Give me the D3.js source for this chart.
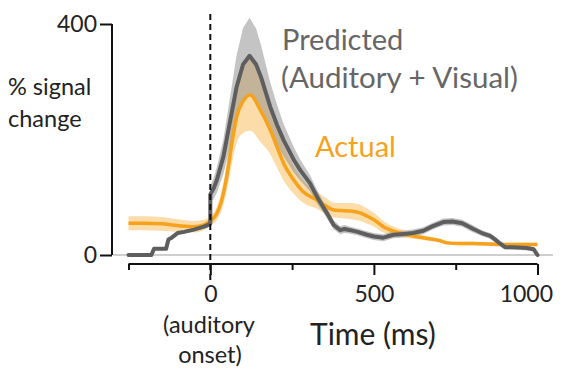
<!DOCTYPE html>
<html>
<head>
<meta charset="utf-8">
<script src="https://cdn.jsdelivr.net/npm/d3@7"></script>
<style>
  body { margin: 0; background: #fff; }
  text { font-family: Lato, "Open Sans", sans-serif; }
</style>
</head>
<body>
<svg id="chart"></svg>
<script>
// time points (ms) and values (% signal change)
const actualTime = [-250, -200, -150, -100, -50, -20, 0, 20, 35, 50, 65, 80, 100, 122, 153, 183, 204, 224, 255, 285, 326, 350, 377, 400, 428, 458, 480, 500, 529, 580, 620, 660, 700, 725, 760, 800, 850, 900, 950, 1000]
const actualMean = [55, 55, 54, 51, 49, 52, 59, 72, 95, 135, 190, 238, 266, 277, 251, 217, 187, 159, 130, 109, 95, 86, 78, 77, 76, 73, 67, 61, 49, 38, 33, 29, 25, 21, 20, 20, 19, 18, 18, 18]
const actualErr = [12, 12, 12, 11, 10, 9, 8, 12, 17, 25, 35, 45, 55, 62, 55, 42, 36, 30, 24, 19, 15, 14, 13, 13, 14, 14, 13, 12, 10, 7, 5, 4, 3, 3, 3, 3, 3, 3, 3, 3]

const predTime = [-250, -180, -172, -135, -128, -118, -100, -80, -50, -20, 0, 0, 10, 20, 40, 60, 80, 100, 120, 140, 155, 183, 204, 224, 255, 275, 305, 326, 340, 356, 377, 397, 410, 428, 450, 479, 500, 529, 560, 580, 600, 620, 651, 680, 712, 740, 770, 804, 830, 855, 870, 885, 900, 940, 968, 988, 1000]
const predMean = [0, 0, 11, 11, 27, 30, 38, 40, 44, 49, 54, 105, 115, 130, 170, 230, 290, 330, 345, 330, 308, 257, 225, 199, 165, 147, 124, 101, 88, 73, 52, 43, 45, 43, 40, 35, 32, 30, 35, 36, 37, 38, 42, 50, 57, 58, 55, 45, 38, 33, 27, 20, 14, 13, 12, 10, 0]
const predErr = [2, 2, 2, 2, 3, 3, 3, 3, 3, 4, 5, 15, 18, 22, 30, 42, 55, 63, 66, 62, 55, 42, 35, 28, 22, 18, 14, 12, 10, 9, 8, 7, 7, 6, 6, 6, 6, 6, 6, 6, 6, 6, 6, 6, 6, 6, 6, 6, 5, 5, 5, 5, 5, 4, 4, 4, 3]

const xTicks = [-250, 0, 250, 500, 750, 1000]
const xLabels = [0, 500, 1000]
const yTicks = [0, 400]

function zipSeries(t, m, e) {
    return t.map(function(d, i) { return { t: d, v: m[i], e: e[i] } })
}

const actual = zipSeries(actualTime, actualMean, actualErr)
const predicted = zipSeries(predTime, predMean, predErr)

const svgWidth = 563, svgHeight = 370
const svg = d3.select('#chart')
    .attr('width', svgWidth)
    .attr('height', svgHeight)

const x = d3.scaleLinear().domain([-250, 1000]).range([128.5, 537.5])
const y = d3.scaleLinear().domain([0, 400]).range([255, 24])

const orange = '#f6a21c'
const grayLine = '#5e5e5e'

// zero reference line
svg.append('line')
    .attr('x1', 113).attr('x2', 553)
    .attr('y1', y(0)).attr('y2', y(0))
    .attr('stroke', '#cfcfcf')
    .attr('stroke-width', 2)

// error bands
const band = d3.area()
    .x(function(d) { return x(d.t) })
    .y0(function(d) { return y(d.v - d.e) })
    .y1(function(d) { return y(d.v + d.e) })

svg.append('path')
    .datum(actual)
    .attr('fill', orange)
    .attr('fill-opacity', 0.38)
    .attr('d', band.curve(d3.curveMonotoneX))

svg.append('path')
    .datum(predicted)
    .attr('fill', '#8a8a8a')
    .attr('fill-opacity', 0.5)
    .attr('d', band.curve(d3.curveLinear))

// mean lines
const line = d3.line()
    .x(function(d) { return x(d.t) })
    .y(function(d) { return y(d.v) })

svg.append('path')
    .datum(actual)
    .attr('fill', 'none')
    .attr('stroke', orange)
    .attr('stroke-width', 3.5)
    .attr('stroke-linejoin', 'round')
    .attr('d', line.curve(d3.curveMonotoneX))

svg.append('path')
    .datum(predicted)
    .attr('fill', 'none')
    .attr('stroke', grayLine)
    .attr('stroke-width', 4)
    .attr('stroke-linejoin', 'round')
    .attr('stroke-linecap', 'round')
    .attr('d', line.curve(d3.curveLinear))

// auditory onset marker
svg.append('line')
    .attr('x1', x(0)).attr('x2', x(0))
    .attr('y1', 14).attr('y2', 280)
    .attr('stroke', '#111')
    .attr('stroke-width', 2)
    .attr('stroke-dasharray', '6,4')

// y axis
const yAxis = svg.append('g')
    .attr('transform', 'translate(112,0)')
    .call(d3.axisLeft(y).tickValues(yTicks).tickSize(12).tickPadding(3).tickFormat(d3.format('d')))
yAxis.select('.domain').attr('stroke', '#111').attr('stroke-width', 2).attr('d', 'M0,' + y(400) + 'V' + y(0))
yAxis.selectAll('.tick line').attr('stroke', '#111').attr('stroke-width', 2)
yAxis.selectAll('.tick text')
    .attr('font-size', 23)
    .attr('fill', '#222')
    .style('font-family', 'Lato, sans-serif')

// x axis
const xAxis = svg.append('g')
    .attr('transform', 'translate(0,264)')
    .call(d3.axisBottom(x).tickValues(xTicks).tickSize(6).tickFormat(''))
xAxis.select('.domain').attr('stroke', '#111').attr('stroke-width', 2).attr('d', 'M' + x(-250) + ',0H' + x(1000))
xAxis.selectAll('.tick line')
    .attr('stroke', '#111')
    .attr('stroke-width', 2)
    .attr('y2', function(d) { return xLabels.indexOf(d) >= 0 ? 11 : 6 })

// the last label sits a little left of its tick so it stays inside the frame
xAxis.selectAll('.tick')
    .filter(function(d) { return xLabels.indexOf(d) >= 0 })
    .append('text')
    .attr('y', 38)
    .attr('x', function(d) { return d === 1000 ? 15 : 0 })
    .attr('text-anchor', function(d) { return d === 1000 ? 'end' : 'middle' })
    .attr('font-size', 23)
    .attr('fill', '#222')
    .text(function(d) { return d })

// labels
svg.append('text').attr('x', 8).attr('y', 95).attr('font-size', 23.5).attr('fill', '#222').text('% signal')
svg.append('text').attr('x', 8).attr('y', 127).attr('font-size', 23.5).attr('fill', '#222').text('change')

svg.append('text').attr('x', 209).attr('y', 333).attr('text-anchor', 'middle').attr('font-size', 23.5).attr('fill', '#222').text('(auditory')
svg.append('text').attr('x', 210).attr('y', 363).attr('text-anchor', 'middle').attr('font-size', 23.5).attr('fill', '#222').text('onset)')

svg.append('text').attr('x', 310).attr('y', 345).attr('font-size', 30).attr('fill', '#222').text('Time (ms)')

svg.append('text').attr('x', 282).attr('y', 50).attr('font-size', 29).attr('fill', '#666').text('Predicted')
svg.append('text').attr('x', 281).attr('y', 88).attr('font-size', 29.5).attr('fill', '#666').text('(Auditory + Visual)')
svg.append('text').attr('x', 315).attr('y', 157).attr('font-size', 29).attr('fill', orange).text('Actual')
</script>
</body>
</html>
